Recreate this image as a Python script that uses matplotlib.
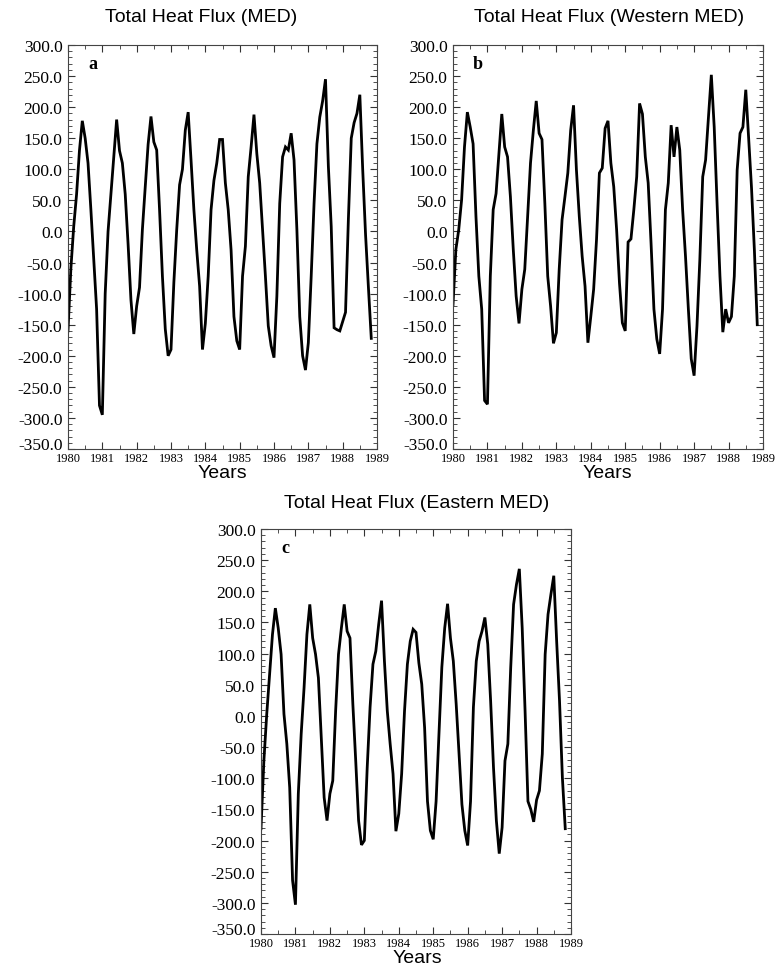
import numpy as np
import matplotlib
matplotlib.use("Agg")
import matplotlib.pyplot as plt
from matplotlib.ticker import MultipleLocator

plt.rcParams['axes.unicode_minus'] = False

titles = ["Total Heat Flux (MED)", "Total Heat Flux (Western MED)", "Total Heat Flux (Eastern MED)"]
letters = ["a", "b", "c"]
start_year = 1980
year_ticks = list(range(1980, 1990))
flux_ticks = list(range(-350, 301, 50))

med = [-160, -60, 8, 60, 130, 178, 150, 110, 35, -45, -125, -280,
       -295, -100, 0, 60, 120, 180, 130, 110, 60, -20, -110, -165,
       -120, -90, 3, 72, 140, 185, 144, 131, 35, -72, -157, -200,
       -190, -82, 3, 75, 100, 163, 192, 115, 35, -30, -88, -190,
       -148, -72, 35, 82, 110, 148, 148, 78, 35, -30, -137, -176,
       -190, -72, -24, 88, 136, 188, 125, 78, 3, -72, -152, -184,
       -203, -104, 45, 120, 136, 131, 158, 115, 3, -137, -200, -223,
       -179, -72, 45, 141, 184, 210, 245, 105, 8, -155, -158, -160,
       -145, -130, 20, 150, 175, 190, 220, 100, -5, -90, -172]

wmed = [-118, -29, 3, 51, 136, 192, 168, 141, 24, -72, -125, -272,
        -278, -72, 35, 61, 125, 189, 136, 120, 56, -29, -104, -148,
        -93, -61, 24, 110, 163, 210, 158, 148, 45, -72, -120, -180,
        -163, -61, 19, 56, 94, 163, 203, 99, 24, -40, -88, -179,
        -137, -93, -13, 94, 102, 166, 178, 110, 72, 3, -83, -147,
        -160, -17, -12, 35, 88, 206, 189, 120, 78, -19, -125, -173,
        -197, -125, 35, 78, 171, 120, 168, 131, 35, -40, -125, -205,
        -232, -152, -45, 88, 115, 184, 252, 168, 45, -72, -162, -125,
        -147, -137, -72, 99, 158, 168, 228, 150, 70, -30, -150]

emed = [-181, -72, 3, 67, 131, 173, 141, 99, 3, -45, -115, -264,
        -303, -125, -29, 45, 131, 179, 125, 99, 61, -35, -131, -168,
        -125, -104, 8, 99, 141, 179, 136, 125, 19, -72, -168, -207,
        -200, -83, 14, 83, 104, 147, 185, 88, 8, -45, -93, -185,
        -157, -93, 8, 83, 120, 139, 134, 85, 51, -19, -137, -184,
        -198, -137, -29, 78, 141, 180, 125, 88, 19, -61, -142, -184,
        -208, -137, 14, 88, 120, 136, 158, 115, 24, -83, -168, -221,
        -179, -72, -45, 78, 179, 211, 236, 141, 8, -137, -150, -170,
        -135, -120, -61, 99, 163, 195, 225, 120, 24, -99, -181]

series = [med, wmed, emed]

W, H = 776, 970
fig = plt.figure(figsize=(W / 100, H / 100), dpi=100)

# axes boxes in pixels: left, right, top, bottom
boxes = [(68, 377, 46, 450), (453, 763, 46, 450), (261, 571, 530, 935)]
title_pos = [(201, 18), (609, 18), (417, 503)]
years_pos = [(222, 474), (607, 474), (417, 959)]

serif = ['Liberation Serif', 'DejaVu Serif']
sans = ['Liberation Sans', 'DejaVu Sans']

for k in range(3):
    l, r, t, b = boxes[k]
    ax = fig.add_axes([l / W, 1 - b / H, (r - l) / W, (b - t) / H])
    vals = np.array(series[k], dtype=float)
    x = start_year + np.arange(len(vals)) / 12.0
    ax.plot(x, vals, color='black', lw=2.0, solid_joinstyle='miter')
    ax.set_xlim(1980, 1989)
    ax.set_ylim(-350, 300)
    ax.set_xticks(year_ticks)
    ax.set_xticklabels([str(y) for y in year_ticks], fontfamily=serif, fontsize=9)
    ax.xaxis.set_minor_locator(MultipleLocator(0.5))
    ax.set_yticks(flux_ticks)
    ylabs = ax.set_yticklabels(["%.1f" % v for v in flux_ticks],
                               fontfamily=serif, fontsize=12.5)
    ylabs[0].set_verticalalignment('baseline')
    ax.yaxis.set_minor_locator(MultipleLocator(10))
    ax.tick_params(which='both', direction='in', top=True, right=True, colors='#333333')
    ax.tick_params(which='major', length=5, width=0.8)
    ax.tick_params(which='minor', length=3, width=0.6)
    ax.tick_params(axis='y', which='major', pad=4, labelcolor='black')
    ax.tick_params(axis='x', which='major', pad=2.5, labelcolor='black')
    for sp in ax.spines.values():
        sp.set_linewidth(0.8)
        sp.set_color('#444444')
    ax.text(0.065, 0.955, letters[k], transform=ax.transAxes, fontfamily=serif,
            fontweight='bold', fontsize=13, ha='left', va='center')
    tx, ty = title_pos[k]
    fig.text(tx / W, 1 - ty / H, titles[k], fontfamily=sans, fontsize=14,
             ha='center', va='center')
    yx, yy = years_pos[k]
    fig.text(yx / W, 1 - yy / H, "Years", fontfamily=sans, fontsize=14,
             ha='center', va='center')

fig.savefig('out.png', dpi=100)
